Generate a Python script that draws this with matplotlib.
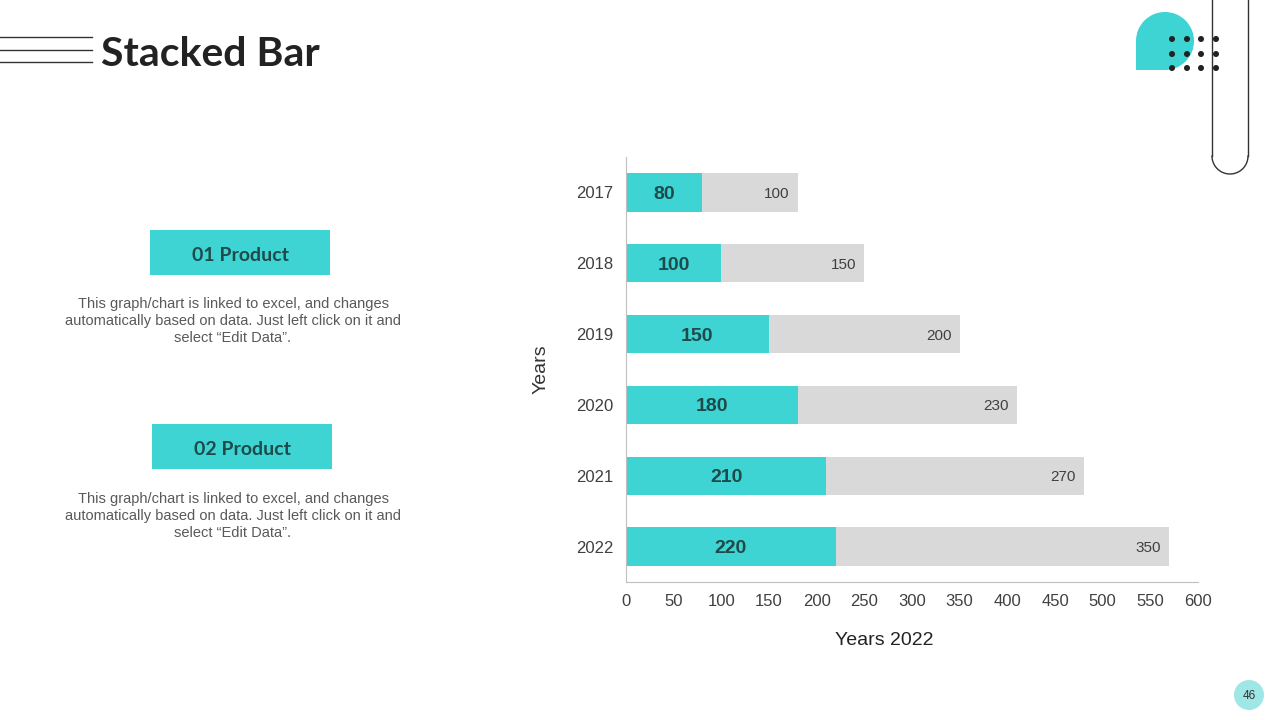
import matplotlib
matplotlib.use("Agg")
import matplotlib.pyplot as plt
from matplotlib.patches import Rectangle, Circle, Wedge
import numpy as np

years = ["2017", "2018", "2019", "2020", "2021", "2022"]
series1 = [80, 100, 150, 180, 210, 220]
series2 = [100, 150, 200, 230, 270, 350]
x_ticks = [0, 50, 100, 150, 200, 250, 300, 350, 400, 450, 500, 550, 600]
products = ["01 Product", "02 Product"]
body = "This graph/chart is linked to excel, and changes\nautomatically based on data. Just left click on it and\nselect \u201cEdit Data\u201d."

teal = "#3ED4D4"
grey = "#D9D9D9"

plt.rcParams["font.family"] = ["Liberation Sans", "DejaVu Sans"]

fig = plt.figure(figsize=(12.8, 7.2), dpi=100)
fig.patch.set_facecolor("white")

# overlay in pixel coords for the slide decorations
deco = fig.add_axes([0, 0, 1, 1], zorder=0)
deco.set_xlim(0, 1280)
deco.set_ylim(720, 0)
deco.axis("off")

for yy in [37, 50, 62]:
    deco.plot([0, 92], [yy, yy], color="#333333", lw=1)
deco.text(101, 54, "Stacked Bar", fontsize=29.5, fontweight="bold", family=["Lato", "DejaVu Sans"],
          color="#222222", va="center", ha="left")

# teal drop shape top right
deco.add_patch(Wedge((1165, 41), 29, 0, 360, color=teal, lw=0))
deco.add_patch(Rectangle((1136, 41), 29, 29, color=teal, lw=0))
for dx in [1172, 1187, 1201, 1216]:
    for dy in [39, 54, 68]:
        deco.add_patch(Circle((dx, dy), 2.3, color="#222222", zorder=3))
# pill outline
deco.plot([1212, 1212], [0, 156], color="#333333", lw=1)
deco.plot([1248, 1248], [0, 156], color="#333333", lw=1)
arc = np.linspace(0, np.pi, 60)
deco.plot(1230 + 18 * np.cos(arc), 156 + 18 * np.sin(arc), color="#333333", lw=1)

# product boxes
box_y = [230, 424]
box_x = [150, 152]
text_y = [321, 516]
for i in range(2):
    deco.add_patch(Rectangle((box_x[i], box_y[i]), 180, 45, color=teal, lw=0))
    deco.text(box_x[i] + 90, box_y[i] + 24, products[i], fontsize=14, fontweight="bold",
              family=["Lato", "DejaVu Sans"], color="#1E4A4A", ha="center", va="center_baseline")
    deco.text(233, text_y[i], body, fontsize=10.5, color="#595959", ha="center", va="center",
              linespacing=1.28)

# page number
deco.add_patch(Circle((1249, 695), 15, color="#9FE6E6", lw=0))
deco.text(1249, 696, "46", fontsize=8.5, color="#333333", ha="center", va="center")

# chart
ax = fig.add_axes([626 / 1280, 138 / 720, 572 / 1280, 425 / 720], zorder=1)
ax.patch.set_alpha(0)
pos = np.arange(len(years))
ax.barh(pos, series1, height=0.54, color=teal)
ax.barh(pos, series2, left=series1, height=0.54, color=grey)

for i in range(len(years)):
    ax.text(series1[i] / 2, pos[i], str(series1[i]), fontsize=14, fontweight="bold",
            color="#1E4A4A", ha="center", va="center_baseline")
    ax.annotate(str(series2[i]), (series1[i] + series2[i], pos[i]), xytext=(-6, 0),
                textcoords="offset points", fontsize=11, color="#404040", ha="right",
                va="center_baseline")

ax.set_xlim(0, 600)
ax.set_ylim(5.5, -0.5)
ax.set_xticks(x_ticks)
ax.set_xticklabels([str(t) for t in x_ticks])
ax.set_yticks(pos)
ax.set_yticklabels(years)
ax.tick_params(length=0, labelsize=12, colors="#404040")
ax.tick_params(axis="x", pad=9)
ax.tick_params(axis="y", pad=9)
for s in ["top", "right"]:
    ax.spines[s].set_visible(False)
for s in ["left", "bottom"]:
    ax.spines[s].set_color("#BFBFBF")
ax.set_xlabel("Years 2022", fontsize=14, color="#222222")
ax.xaxis.set_label_coords(0.451, -0.118)
ax.set_ylabel("Years", fontsize=14, color="#333333")
ax.yaxis.set_label_coords(-0.134, 0.5)

fig.savefig("out.png", dpi=100)
